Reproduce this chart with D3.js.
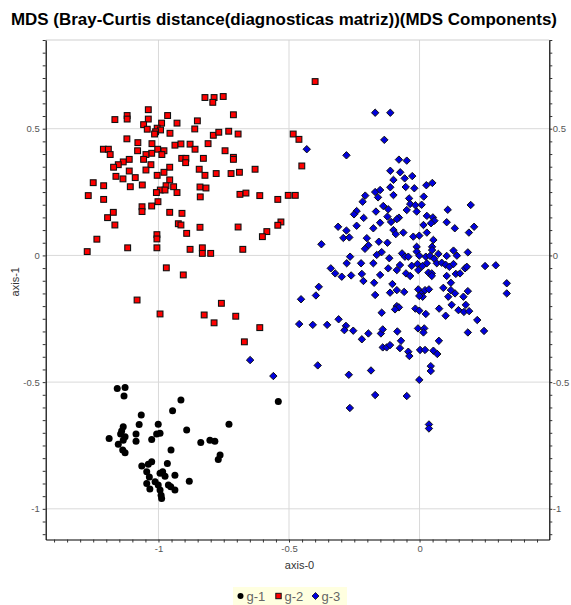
<!DOCTYPE html>
<html><head><meta charset="utf-8">
<script src="https://cdn.jsdelivr.net/npm/d3@7"></script>
<style>
body{margin:0;background:#fff}
text{font-family:"Liberation Sans",Arial,Helvetica,sans-serif}
</style>
</head><body>
<svg id="chart" width="571" height="605"></svg>
<script>
const chartTitle = "MDS (Bray-Curtis distance(diagnosticas matriz))(MDS Components)";
const xTitle = "axis-0";
const yTitle = "axis-1";
const groupNames = ["g-1", "g-2", "g-3"];
const xMajorTicks = [-1, -0.5, 0];
const yMajorTicks = [0.5, 0, -0.5, -1];
const xDomain = [-1.432, 0.497];
const yDomain = [-1.121, 0.85];

// g-1 (black circles)
const g1Points = [
[-1.158,-0.525],[-1.128,-0.521],[-1.132,-0.555],[-0.914,-0.571],[-0.541,-0.576],[-0.946,-0.613],
[-1.066,-0.630],[-1.074,-0.667],[-1.001,-0.666],[-0.730,-0.666],[-0.892,-0.689],[-1.135,-0.676],
[-1.141,-0.693],[-1.145,-0.705],[-1.128,-0.716],[-1.189,-0.722],[-1.086,-0.705],[-1.007,-0.705],
[-0.994,-0.702],[-1.026,-0.726],[-1.086,-0.733],[-1.154,-0.745],[-1.137,-0.768],[-1.128,-0.779],
[-0.838,-0.738],[-0.803,-0.729],[-0.784,-0.733],[-0.952,-0.768],[-0.764,-0.788],[-0.771,-0.805],
[-0.966,-0.821],[-1.026,-0.814],[-1.039,-0.824],[-1.064,-0.831],[-1.045,-0.854],[-1.035,-0.874],
[-0.994,-0.860],[-0.984,-0.854],[-0.975,-0.871],[-0.937,-0.867],[-1.045,-0.900],[-1.013,-0.893],
[-1.001,-0.906],[-0.962,-0.906],[-0.953,-0.913],[-1.033,-0.922],[-0.994,-0.926],[-0.937,-0.926],
[-0.990,-0.946],[-0.988,-0.959],[-0.882,-0.891],[-1.135,-0.729]
];

// g-2 (red squares)
const g2Points = [
[-0.822,0.623],[-0.787,0.623],[-0.792,0.604],[-0.752,0.627],[-1.039,0.575],[-0.713,0.555],
[-1.167,0.536],[-1.120,0.552],[-1.120,0.538],[-1.039,0.538],[-0.965,0.552],[-1.057,0.516],
[-0.929,0.522],[-0.851,0.531],[-0.988,0.522],[-1.005,0.502],[-1.043,0.498],[-0.992,0.495],
[-1.011,0.488],[-1.015,0.479],[-0.956,0.482],[-0.861,0.499],[-0.790,0.474],[-0.769,0.486],
[-0.731,0.490],[-0.695,0.479],[-1.121,0.460],[-1.079,0.445],[-1.080,0.413],[-1.025,0.441],
[-1.003,0.419],[-0.979,0.413],[-0.937,0.435],[-0.914,0.440],[-0.879,0.439],[-0.860,0.419],
[-0.810,0.441],[-0.745,0.413],[-0.713,0.387],[-0.713,0.379],[-1.211,0.419],[-1.192,0.419],
[-1.185,0.398],[-1.026,0.403],[-1.048,0.398],[-0.987,0.398],[-1.057,0.379],[-1.112,0.379],
[-1.135,0.369],[-1.154,0.358],[-1.172,0.348],[-1.029,0.358],[-1.048,0.337],[-1.112,0.333],
[-1.163,0.312],[-1.136,0.302],[-1.089,0.307],[-0.957,0.348],[-0.911,0.383],[-0.895,0.383],
[-0.896,0.366],[-0.828,0.383],[-0.844,0.340],[-0.822,0.316],[-0.779,0.323],[-0.722,0.323],
[-0.690,0.328],[-1.005,0.316],[-0.979,0.328],[-0.957,0.298],[-0.942,0.271],[-0.971,0.275],
[-0.993,0.258],[-1.008,0.248],[-0.975,0.258],[-0.929,0.248],[-1.108,0.271],[-1.062,0.278],
[-1.210,0.275],[-1.250,0.287],[-1.269,0.236],[-1.210,0.221],[-1.002,0.212],[-1.026,0.195],
[-1.063,0.192],[-1.063,0.173],[-1.173,0.170],[-1.195,0.149],[-1.167,0.120],[-0.957,0.170],
[-0.910,0.166],[-0.924,0.125],[-0.914,0.120],[-0.892,0.087],[-0.841,0.270],[-0.818,0.266],
[-0.840,0.231],[-0.841,0.111],[-0.695,0.112],[-0.688,0.241],[-0.665,0.246],[-1.236,0.064],
[-1.273,0.015],[-1.118,0.030],[-1.006,0.082],[-1.006,0.065],[-1.006,0.030],[-0.879,0.024],
[-0.832,0.030],[-0.832,0.008],[-0.800,0.008],[-0.677,0.024],[-0.970,-0.049],
[-0.400,0.686],[-0.484,0.479],[-0.462,0.458],[-0.451,0.353],[-0.630,0.340],[-0.612,0.236],
[-0.543,0.221],[-0.503,0.237],[-0.476,0.237],[-0.531,0.132],[-0.543,0.119],[-0.585,0.094],
[-0.602,0.074],[-0.905,-0.077],[-0.759,-0.189],[-0.825,-0.235],[-0.787,-0.266],[-0.704,-0.240],
[-0.612,-0.285],[-0.671,-0.341],[-1.082,-0.176],[-0.994,-0.231]
];

// g-3 (blue diamonds)
const g3Points = [
[-0.170,0.563],[-0.112,0.563],[-0.135,0.456],[-0.432,0.419],[-0.280,0.395],[-0.079,0.378],
[-0.049,0.374],[-0.112,0.334],[-0.074,0.328],[-0.057,0.304],[-0.028,0.313],[-0.100,0.298],
[0.026,0.277],[0.049,0.286],[-0.053,0.270],[-0.020,0.265],[-0.112,0.269],[-0.170,0.250],
[-0.151,0.258],[-0.100,0.238],[-0.159,0.229],[-0.208,0.236],[-0.218,0.212],[0.016,0.232],
[-0.040,0.225],[-0.036,0.203],[-0.016,0.198],[0.008,0.200],[-0.011,0.173],[-0.049,0.179],
[-0.139,0.195],[-0.120,0.182],[-0.167,0.173],[-0.241,0.175],[-0.251,0.162],[-0.214,0.148],
[-0.123,0.153],[-0.079,0.149],[-0.087,0.143],[0.028,0.156],[0.051,0.150],[0.057,0.137],
[0.044,0.127],[0.108,0.180],[0.196,0.199],[0.104,0.131],[0.135,0.107],[0.209,0.113],
[0.189,0.090],[-0.312,0.113],[-0.280,0.098],[-0.241,0.117],[-0.177,0.107],[-0.151,0.129],
[-0.109,0.132],[-0.100,0.100],[-0.091,0.084],[-0.062,0.090],[-0.024,0.074],[-0.001,0.078],
[0.015,0.120],[0.028,0.090],[-0.292,0.069],[-0.269,0.071],[-0.202,0.068],[-0.376,0.044],
[-0.196,0.040],[-0.209,0.026],[-0.156,0.054],[-0.123,0.050],[-0.011,0.034],[-0.011,0.015],
[0.053,0.061],[0.048,0.034],[0.048,0.021],[0.130,0.019],[0.143,-0.001],[0.185,0.012],
[-0.266,-0.005],[-0.279,-0.031],[-0.224,-0.031],[-0.177,-0.031],[-0.145,0.013],[-0.164,0.002],
[-0.116,-0.011],[-0.067,0.008],[-0.056,-0.005],[-0.075,-0.038],[-0.043,-0.005],[-0.001,-0.001],
[0.024,-0.005],[0.040,-0.002],[0.056,-0.013],[0.072,0.006],[0.104,-0.002],[0.066,-0.031],
[0.085,-0.029],[0.100,-0.037],[0.114,-0.045],[0.130,-0.034],[0.028,-0.031],[-0.008,-0.034],
[-0.030,-0.041],[-0.340,-0.051],[-0.323,-0.071],[-0.298,-0.084],[-0.262,-0.079],[-0.221,-0.073],
[-0.151,-0.077],[-0.120,-0.051],[-0.087,-0.058],[-0.052,-0.071],[-0.036,-0.081],[-0.005,-0.058],
[0.011,-0.042],[0.034,-0.068],[0.047,-0.071],[0.047,-0.081],[0.104,-0.081],[0.139,-0.073],
[0.155,-0.071],[0.174,-0.051],[0.181,-0.045],[0.251,-0.042],[0.292,-0.039],
[-0.386,-0.124],[-0.397,-0.158],[-0.454,-0.173],[-0.215,-0.101],[-0.174,-0.108],[-0.104,-0.113],
[-0.087,-0.137],[-0.059,-0.144],[-0.113,-0.147],[-0.170,-0.156],[-0.005,-0.134],[0.008,-0.150],
[0.021,-0.137],[0.036,-0.134],[0.012,-0.163],[-0.001,-0.160],[0.091,-0.128],[0.120,-0.108],
[0.120,-0.137],[0.136,-0.150],[0.110,-0.163],[0.168,-0.163],[0.185,-0.141],[0.123,-0.195],
[0.177,-0.195],[0.149,-0.216],[0.170,-0.223],[0.190,-0.220],[0.334,-0.110],[0.334,-0.150],
[-0.087,-0.200],[-0.079,-0.205],[-0.094,-0.213],[-0.145,-0.226],[-0.016,-0.210],[-0.001,-0.218],
[0.024,-0.231],[0.075,-0.210],[0.100,-0.238],[-0.461,-0.271],[-0.409,-0.274],[-0.354,-0.274],
[-0.310,-0.252],[-0.282,-0.278],[-0.288,-0.295],[-0.254,-0.297],[-0.196,-0.308],[-0.221,-0.331],
[-0.148,-0.308],[-0.141,-0.292],[-0.085,-0.300],[-0.006,-0.288],[0.018,-0.288],[0.015,-0.304],
[-0.071,-0.337],[-0.141,-0.363],[-0.126,-0.363],[-0.113,-0.354],[-0.075,-0.366],[-0.043,-0.380],
[-0.039,-0.397],[0.002,-0.373],[0.021,-0.373],[0.053,-0.376],[0.068,-0.389],[0.074,-0.337],
[0.185,-0.304],[0.247,-0.298],[0.221,-0.255],[-0.390,-0.434],[-0.271,-0.471],[-0.186,-0.454],
[0.043,-0.437],[0.043,-0.456],[-0.001,-0.491],[-0.170,-0.551],[-0.049,-0.555],[-0.267,-0.602],
[0.036,-0.667],[0.036,-0.683],[-0.560,-0.476],[-0.649,-0.413]
];

const svg = d3.select("#chart");
const L = 45.7, R = 549.3, T = 40, B = 539.5;
const x = d3.scaleLinear().domain(xDomain).range([L, R]);
const y = d3.scaleLinear().domain(yDomain).range([B, T]);

const fmt = d => {
  const m = [...xMajorTicks, ...yMajorTicks].some(v => Math.abs(v - d) < 1e-9);
  return m ? String(+d.toFixed(2)) : "";
};
const xMinor = d3.range(-1.40, 0.50, 0.05).map(v => +v.toFixed(2));
const yMinor = d3.range(-1.10, 0.86, 0.05).map(v => +v.toFixed(2));

// gridlines
const grid = svg.append("g");
grid.selectAll("line.gx").data(xMajorTicks).join("line")
  .attr("x1", d => x(d)).attr("x2", d => x(d)).attr("y1", T).attr("y2", B)
  .attr("stroke", "#d9d9d9").attr("stroke-width", 1);
grid.selectAll("line.gy").data(yMajorTicks).join("line")
  .attr("x1", L).attr("x2", R).attr("y1", d => y(d)).attr("y2", d => y(d))
  .attr("stroke", "#d9d9d9").attr("stroke-width", 1);
// top border (light)
svg.append("line").attr("x1", L).attr("x2", R).attr("y1", T).attr("y2", T)
  .attr("stroke", "#cfcfcf").attr("stroke-width", 1);

function styleAxis(g) {
  g.select(".domain").attr("stroke", "#000").attr("stroke-width", 1.2);
  g.selectAll(".tick line").attr("stroke", "#333");
  g.selectAll(".tick text").attr("fill", "#555").style("font-size", "9.5px")
    .style("font-family", "'Liberation Sans',Arial,sans-serif");
}
svg.append("g").attr("transform", `translate(0,${B})`)
  .call(d3.axisBottom(x).tickValues(xMinor).tickFormat(fmt).tickSize(3).tickSizeOuter(0).tickPadding(3))
  .call(styleAxis);
svg.append("g").attr("transform", `translate(${L},0)`)
  .call(d3.axisLeft(y).tickValues(yMinor).tickFormat(fmt).tickSize(3).tickSizeOuter(0).tickPadding(3))
  .call(styleAxis);
svg.append("g").attr("transform", `translate(${R},0)`)
  .call(d3.axisRight(y).tickValues(yMinor).tickFormat(fmt).tickSize(3).tickSizeOuter(0).tickPadding(0.5))
  .call(styleAxis);

// titles
svg.append("text").attr("x", 284).attr("y", 25).attr("text-anchor", "middle")
  .style("font-size", "16px").style("font-weight", "bold").attr("fill", "#000")
  .attr("textLength", 546).attr("lengthAdjust", "spacingAndGlyphs").text(chartTitle);
svg.append("text").attr("x", (L + R) / 2 + 2).attr("y", 569).attr("text-anchor", "middle")
  .style("font-size", "11px").attr("fill", "#333").text(xTitle);
svg.append("text").attr("transform", `translate(19,${(T + B) / 2 - 8}) rotate(-90)`)
  .attr("text-anchor", "middle").style("font-size", "11px").attr("fill", "#333").text(yTitle);

// marks
const marks = svg.append("g");
marks.selectAll("rect.g2").data(g2Points).join("rect")
  .attr("x", d => x(d[0]) - 2.9).attr("y", d => y(d[1]) - 2.9)
  .attr("width", 5.8).attr("height", 5.8)
  .attr("fill", "#ff0000").attr("stroke", "#111").attr("stroke-width", 1.1);
marks.selectAll("path.g3").data(g3Points).join("path")
  .attr("d", d => { const cx = x(d[0]), cy = y(d[1]), r = 3.7;
    return `M${cx},${cy - r}L${cx + r},${cy}L${cx},${cy + r}L${cx - r},${cy}Z`; })
  .attr("fill", "#0000dd").attr("stroke", "#111").attr("stroke-width", 1);
marks.selectAll("circle.g1").data(g1Points).join("circle")
  .attr("cx", d => x(d[0])).attr("cy", d => y(d[1])).attr("r", 3.5)
  .attr("fill", "#000");

// legend
const lg = svg.append("g");
lg.append("rect").attr("x", 233).attr("y", 587).attr("width", 114).attr("height", 18).attr("fill", "#ffffe0");
const lx = [240.5, 278.5, 315.5];
lg.append("circle").attr("cx", lx[0]).attr("cy", 596).attr("r", 3).attr("fill", "#000");
lg.append("rect").attr("x", lx[1] - 2.7).attr("y", 593.3).attr("width", 5.4).attr("height", 5.4)
  .attr("fill", "#ff0000").attr("stroke", "#111").attr("stroke-width", 1);
lg.append("path").attr("d", `M${lx[2]},592.5L${lx[2] + 3.5},596L${lx[2]},599.5L${lx[2] - 3.5},596Z`)
  .attr("fill", "#0000dd").attr("stroke", "#111").attr("stroke-width", 0.8);
lg.selectAll("text").data(groupNames).join("text")
  .attr("x", (d, i) => lx[i] + 6).attr("y", 601)
  .style("font-size", "13px").attr("fill", "#666").text(d => d);
</script>
</body></html>
